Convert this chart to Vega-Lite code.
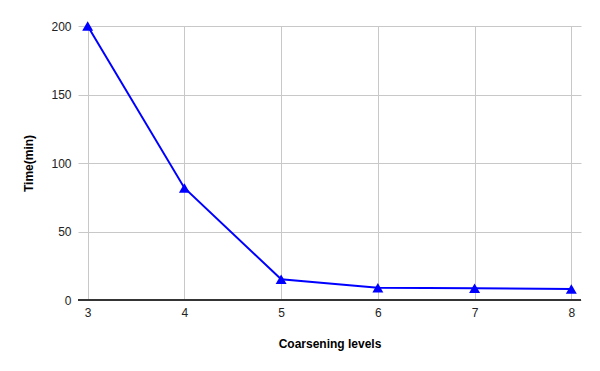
{
  "$schema": "https://vega.github.io/schema/vega-lite/v6.json",
  "width": 503,
  "height": 274,
  "autosize": {"type": "none"},
  "padding": {"left": 78, "top": 26, "right": 19, "bottom": 71},
  "background": "white",
  "config": {
    "view": {"stroke": null},
    "font": "Liberation Sans",
    "axis": {"labelFont": "Liberation Sans", "titleFont": "Liberation Sans", "labelColor": "#222", "titleColor": "#000", "labelFontSize": 12, "titleFontSize": 12, "titleFontWeight": "bold", "gridColor": "#c8c8c8", "gridOpacity": 1, "gridWidth": 1, "ticks": false}
  },
  "data": {"values": [
    {"level": 3, "time": 200},
    {"level": 4, "time": 81.8},
    {"level": 5, "time": 15.1},
    {"level": 6, "time": 9.0},
    {"level": 7, "time": 8.5},
    {"level": 8, "time": 8.0}
  ]},
  "layer": [
    {
      "mark": {"type": "line", "color": "#0000ff", "strokeWidth": 2, "point": {"shape": "triangle-up", "size": 120, "filled": true, "color": "#0000ff", "opacity": 1}},
      "encoding": {
        "x": {"field": "level", "type": "quantitative", "scale": {"domain": [2.9, 8.1], "nice": false, "zero": false},
              "axis": {"title": "Coarsening levels", "values": [3,4,5,6,7,8], "format": "d", "domain": false, "grid": true, "labelPadding": 7, "titlePadding": 20, "labelFlush": false}},
        "y": {"field": "time", "type": "quantitative", "scale": {"domain": [0, 200], "nice": false},
              "axis": {"title": "Time(min)", "values": [0,50,100,150,200], "domain": false, "grid": true, "labelPadding": 7, "titlePadding": 15}}
      }
    },
    {
      "mark": {"type": "rule", "color": "#333333", "strokeWidth": 1},
      "encoding": {"y": {"datum": 0, "type": "quantitative"}}
    }
  ]
}
